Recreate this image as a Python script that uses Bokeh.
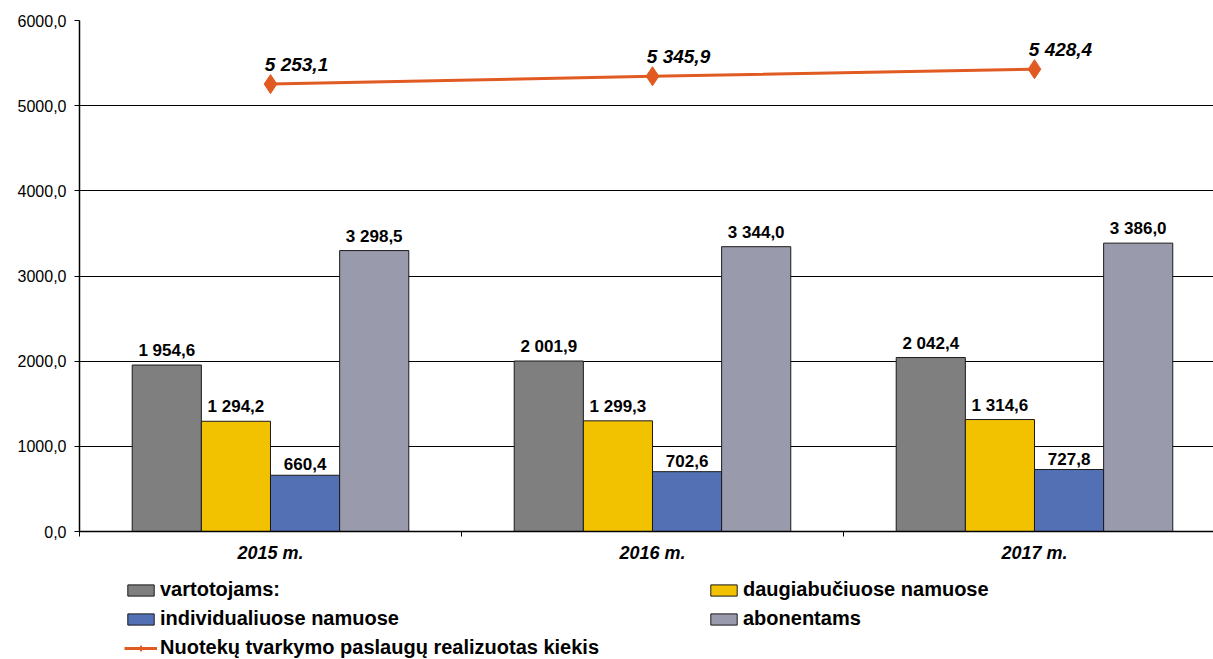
from bokeh.plotting import figure
from bokeh.layouts import column
from bokeh.models import FixedTicker, Legend, LegendItem, ColumnDataSource, Range1d
from bokeh.core.properties import value
from bokeh.embed import file_html
from bokeh.resources import INLINE

# ---- data ----
years = ["2015 m.", "2016 m.", "2017 m."]
vartotojams = [1954.6, 2001.9, 2042.4]
daugiabuciuose = [1294.2, 1299.3, 1314.6]
individualiuose = [660.4, 702.6, 727.8]
abonentams = [3298.5, 3344.0, 3386.0]
nuotekos = [5253.1, 5345.9, 5428.4]
series_names = ["vartotojams:", "daugiabučiuose namuose", "individualiuose namuose", "abonentams"]
line_name = "Nuotekų tvarkymo paslaugų realizuotas kiekis"
y_ticks = [0, 1000, 2000, 3000, 4000, 5000, 6000]

colors = ["#7f7f7f", "#f2c200", "#5470b4", "#9a9aad"]
LINE_COLOR = "#e05a21"
FONT = "Liberation Sans"


def fmt(v):
    s = f"{v:,.1f}"
    return s.replace(",", " ").replace(".", ",")


W = 1213
H_MAIN = 565
H_LEG = 94

p = figure(width=W, height=H_MAIN, output_backend="svg", toolbar_location=None,
           x_range=Range1d(0, 2.9686), y_range=Range1d(0, 6000))
p.min_border_left = 79
p.min_border_right = 0
p.min_border_top = 20
p.min_border_bottom = 32
p.outline_line_color = None

# axes
p.yaxis.ticker = FixedTicker(ticks=y_ticks)
p.yaxis.major_label_overrides = {t: f"{t:.1f}".replace(".", ",") for t in y_ticks}
p.yaxis.major_label_text_font = FONT
p.yaxis.major_label_text_font_size = "16px"
p.yaxis.major_label_text_color = "black"
p.yaxis.axis_line_color = "black"
p.yaxis.axis_line_width = 1.5
p.yaxis.major_tick_line_color = "black"
p.yaxis.major_tick_out = 5
p.yaxis.major_tick_in = 0
p.yaxis.minor_tick_line_color = None
p.yaxis.major_label_standoff = 8

centers = [i + 0.5 for i in range(len(years))]
bounds = [float(i) for i in range(len(years) + 1)]
p.xaxis.ticker = FixedTicker(ticks=centers, minor_ticks=bounds)
p.xaxis.major_label_overrides = {c: y for c, y in zip(centers, years)}
p.xaxis.major_label_text_font = FONT
p.xaxis.major_label_text_font_size = "18px"
p.xaxis.major_label_text_font_style = "bold italic"
p.xaxis.major_label_text_color = "black"
p.xaxis.major_tick_line_color = None
p.xaxis.minor_tick_line_color = "black"
p.xaxis.minor_tick_out = 5
p.xaxis.minor_tick_in = 0
p.xaxis.axis_line_color = "black"
p.xaxis.axis_line_width = 1.5
p.xaxis.major_label_standoff = 5

p.xgrid.grid_line_color = None
p.ygrid.ticker = FixedTicker(ticks=y_ticks)
p.ygrid.grid_line_color = "black"
p.ygrid.grid_line_width = 1

# bars
bw = 0.181
all_series = [vartotojams, daugiabuciuose, individualiuose, abonentams]
bar_sources = []
for j, (vals, col) in enumerate(zip(all_series, colors)):
    xs = [c + (j - 1.5) * bw for c in centers]
    src = ColumnDataSource(dict(x=xs, top=vals, lbl=[fmt(v) for v in vals]))
    bar_sources.append(src)
    p.vbar(x="x", top="top", width=bw, source=src, fill_color=col,
           line_color="#1a1a1a", line_width=1)
    p.text(x="x", y="top", text="lbl", source=src, text_align="center",
           text_baseline="bottom", y_offset=-5, text_font=value(FONT),
           text_font_size="17px", text_font_style="bold", text_color="black")

# line
lsrc = ColumnDataSource(dict(x=centers, y=nuotekos, lbl=[fmt(v) for v in nuotekos]))
p.line(x="x", y="y", source=lsrc, line_color=LINE_COLOR, line_width=3)
p.scatter(x="x", y="y", source=lsrc, marker="diamond", size=19,
          fill_color=LINE_COLOR, line_color=LINE_COLOR)
p.text(x="x", y="y", text="lbl", source=lsrc, text_align="center",
       text_baseline="middle", x_offset=26, y_offset=-20, text_font=value(FONT),
       text_font_size="19px", text_font_style="bold italic", text_color="black")

# ---- legend strip (same data, hidden renderers used only for legend swatches) ----
pl = figure(width=W, height=H_LEG, output_backend="svg", toolbar_location=None,
            x_range=Range1d(0, 1), y_range=Range1d(0, 1),
            x_axis_location=None, y_axis_location=None)
pl.min_border = 0
pl.min_border_left = 79
pl.outline_line_color = None
pl.xgrid.grid_line_color = None
pl.ygrid.grid_line_color = None

leg_bars = [pl.vbar(x="x", top="top", width=bw, source=s, fill_color=c,
                    line_color="#1a1a1a", line_width=1, visible=False)
            for s, c in zip(bar_sources, colors)]
leg_line = pl.line(x="x", y="y", source=lsrc, line_color=LINE_COLOR, line_width=3,
                   visible=False)
leg_mark = pl.scatter(x="x", y="y", source=lsrc, marker="diamond", size=14,
                      fill_color=LINE_COLOR, line_color=LINE_COLOR, visible=False)


def mk_legend(items, loc):
    lg = Legend(items=items, location=loc, orientation="vertical")
    lg.label_text_font = FONT
    lg.label_text_font_size = "20px"
    lg.label_text_font_style = "bold"
    lg.label_text_color = "black"
    lg.glyph_width = 33
    lg.glyph_height = 14
    lg.label_height = 20
    lg.label_standoff = 3
    lg.spacing = 6
    lg.padding = 0
    lg.margin = 0
    lg.border_line_color = None
    lg.background_fill_alpha = 0
    lg.click_policy = "none"
    return lg


leg1 = mk_legend([
    LegendItem(label=series_names[0], renderers=[leg_bars[0]]),
    LegendItem(label=series_names[2], renderers=[leg_bars[2]]),
    LegendItem(label=line_name, renderers=[leg_line, leg_mark]),
], (45, 0))
leg2 = mk_legend([
    LegendItem(label=series_names[1], renderers=[leg_bars[1]]),
    LegendItem(label=series_names[3], renderers=[leg_bars[3]]),
], (628, 29))
pl.add_layout(leg1, "center")
pl.add_layout(leg2, "center")

layout = column(p, pl, spacing=0)
open("out.html", "w").write(file_html(layout, INLINE))
